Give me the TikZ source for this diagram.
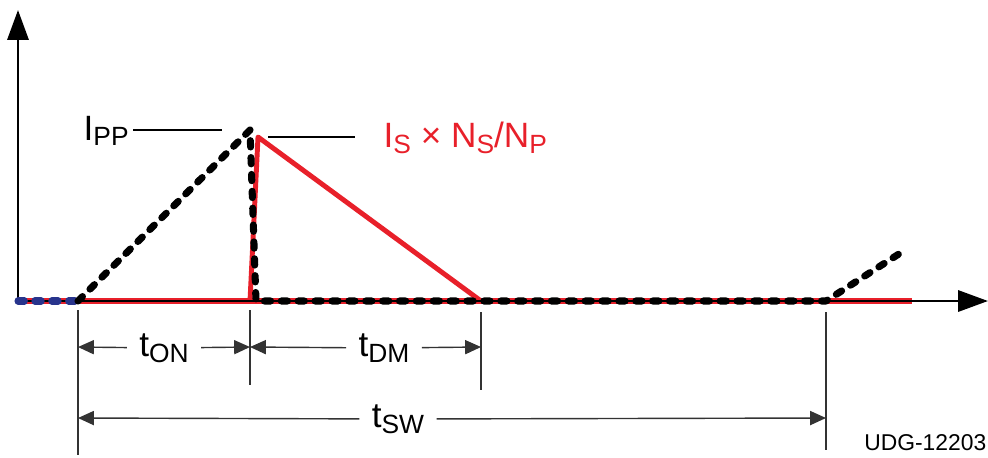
\documentclass[tikz,border=0pt]{standalone}
\usepackage{fontspec}
\setmainfont{Liberation Sans}
\usetikzlibrary{arrows.meta}
\definecolor{rossoTI}{RGB}{232,32,42}
\definecolor{bluTI}{RGB}{40,52,140}
\newcommand{\pedice}[1]{\raisebox{-0.3ex}{\fontsize{7.5}{9}\selectfont #1}}
\begin{document}
\begin{tikzpicture}[x=0.01cm, y=-0.01cm, >={Triangle[length=4.5pt,width=4pt]},
    font=\fontsize{10}{12}\selectfont,
    asse/.style={line width=0.8pt, -{Triangle[length=8.5pt,width=6pt]}},
    tratteggio/.style={line width=2pt, line cap=round, line join=round, dash pattern=on 1.8pt off 3pt},
    quota/.style={line width=0.4pt, black!80}]
    \useasboundingbox (0,0) rectangle (988,457);

    % Punti notevoli
    \coordinate (O) at (18,301);
    \coordinate (Ytip) at (18,10);
    \coordinate (Xtip) at (988,301);
    \coordinate (A) at (78,301);   % inizio t_ON
    \coordinate (P) at (250,130);  % picco primario
    \coordinate (B) at (256,301);
    \coordinate (Rb) at (250,301);
    \coordinate (Rp) at (258,137); % picco secondario
    \coordinate (C) at (481,301);  % fine t_DM
    \coordinate (D) at (826,301);  % fine t_SW
    \coordinate (E) at (905,250);
    \coordinate (Rf) at (912,301);

    % Corrente secondaria (in rosso)
    \draw[rossoTI, line width=1.5pt] (O) -- (Rf);
    \draw[rossoTI, line width=1.4pt, line join=round] (Rb) -- (Rp) -- (C);

    % Assi
    \draw[asse] (O) -- (Xtip);
    \draw[asse] (O) -- (Ytip);

    % Corrente primaria (tratteggiata)
    \draw[tratteggio, bluTI] (O) -- (A);
    \draw[tratteggio] (A) -- (P) -- (B) -- (D) -- (E);

    % Etichette dei picchi
    \node[anchor=west, inner sep=0pt] (ipp) at (83,131) {I\pedice{PP}};
    \coordinate (ippL) at (133,130);
    \coordinate (ippR) at (222,130);
    \draw[line width=0.5pt] (ippL) -- (ippR);
    \node[rossoTI, anchor=west, inner sep=0pt] (isec) at (383,138) {I\pedice{S} × N\pedice{S}/N\pedice{P}};
    \coordinate (isL) at (268,137);
    \coordinate (isR) at (355,137);
    \draw[line width=0.5pt] (isL) -- (isR);

    % Linee di riferimento
    \coordinate (qA) at (78,310);   \coordinate (qA2) at (78,455);
    \coordinate (qB) at (250,310);  \coordinate (qB2) at (250,385);
    \coordinate (qC) at (481,312);  \coordinate (qC2) at (481,390);
    \coordinate (qD) at (826,312);  \coordinate (qD2) at (826,450);
    \foreach \a/\b in {qA/qA2, qB/qB2, qC/qC2, qD/qD2}
        \draw[quota] (\a) -- (\b);

    % Quote temporali
    \node (ton) at (164,348) {t\pedice{ON}};
    \node (tdm) at (384,348) {t\pedice{DM}};
    \node (tsw) at (398,419) {t\pedice{SW}};
    \draw[quota, <-] (78,347) -- (ton);
    \draw[quota, ->] (ton) -- (250,347);
    \draw[quota, <-] (250,347) -- (tdm);
    \draw[quota, ->] (tdm) -- (481,347);
    \draw[quota, <-] (78,418) -- (tsw);
    \draw[quota, ->] (tsw) -- (826,418);

    \node[anchor=east, inner sep=0pt, font=\fontsize{6.5}{7}\selectfont] (udg) at (987,443) {UDG-12203};
\end{tikzpicture}
\end{document}
